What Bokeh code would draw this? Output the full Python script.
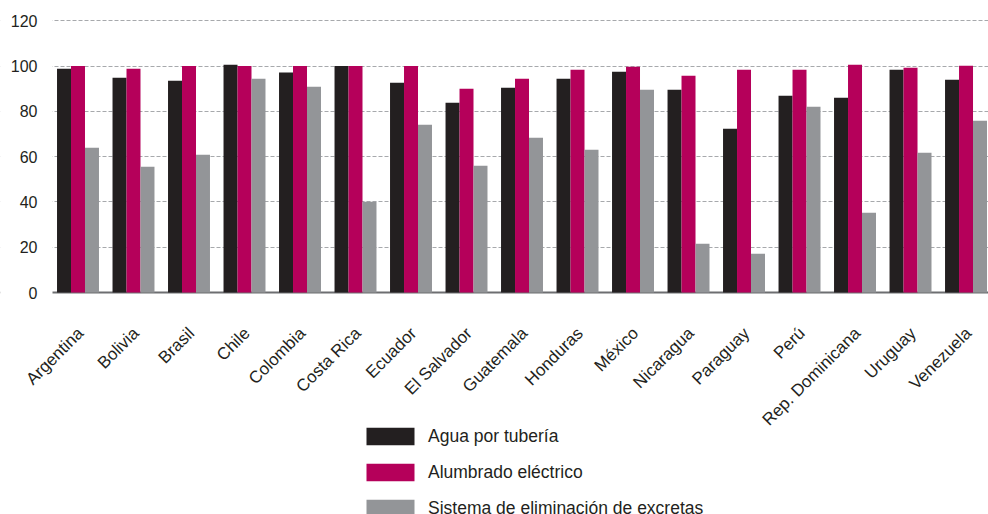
import math
from bokeh.plotting import figure
from bokeh.models import (ColumnDataSource, Range1d, Legend, LegendItem, FixedTicker, Span,
                          BoxAnnotation)
from bokeh.core.properties import value
from bokeh.transform import dodge
from bokeh.embed import file_html
from bokeh.resources import INLINE

countries = ["Argentina", "Bolivia", "Brasil", "Chile", "Colombia", "Costa Rica",
             "Ecuador", "El Salvador", "Guatemala", "Honduras", "México", "Nicaragua",
             "Paraguay", "Perú", "Rep. Dominicana", "Uruguay", "Venezuela"]
agua = [98.8, 94.8, 93.5, 100.6, 97.1, 100.0, 92.6, 83.8, 90.4, 94.4, 97.5, 89.5,
        72.3, 86.9, 86.0, 98.4, 94.0]
alumbrado = [100.0, 98.8, 100.0, 100.0, 100.0, 100.0, 100.0, 90.0, 94.4, 98.4, 99.7,
             95.7, 98.4, 98.4, 100.6, 99.3, 100.1]
excretas = [63.9, 55.5, 60.8, 94.4, 90.9, 40.1, 74.1, 56.0, 68.3, 63.0, 89.5, 21.5,
            17.1, 82.0, 35.2, 61.7, 75.8]
y_ticks = [0, 20, 40, 60, 80, 100, 120]
series_names = ["Agua por tubería", "Alumbrado eléctrico", "Sistema de eliminación de excretas"]
colors = ["#231f20", "#b5005a", "#939598"]

pos = list(range(len(countries)))
src = ColumnDataSource(dict(pos=pos, country=countries, agua=agua,
                            alumbrado=alumbrado, excretas=excretas))
ysrc = ColumnDataSource(dict(y=y_ticks, label=[str(t) for t in y_ticks]))

FONT = "Liberation Sans"
TXT = "#231f20"

X_START, X_END = -1.3964, 16.405
p = figure(width=988, height=514, output_backend="svg", toolbar_location=None,
           x_range=Range1d(X_START, X_END), y_range=Range1d(-98.03, 128.95))
p.min_border_left = 0
p.min_border_right = 0
p.min_border_top = 0
p.min_border_bottom = 0
p.outline_line_color = None
p.background_fill_color = "white"
p.border_fill_color = "white"
p.xaxis.visible = False
p.yaxis.visible = False

# grid (y only, at the tick values)
p.ygrid.ticker = FixedTicker(ticks=y_ticks)
p.xgrid.grid_line_color = None
p.ygrid.grid_line_color = "#a7a9ac"
p.ygrid.grid_line_dash = "4 2"
p.ygrid.grid_line_width = 1

# baseline
p.add_layout(Span(location=0, dimension="width", line_color="#6d6e71", line_width=2,
                  level="underlay"))
# white strip hiding the grid left of the plot area
p.add_layout(BoxAnnotation(left=-10, right=52, left_units="screen", right_units="screen",
                           fill_color="white", fill_alpha=1, line_color=None,
                           level="underlay"))

bw = 0.252
cols = ["agua", "alumbrado", "excretas"]
offsets = [-bw, 0.0, bw]
rends = []
for c, off, col in zip(cols, offsets, colors):
    r = p.vbar(x=dodge("pos", off, range=p.x_range), top=c, width=bw, source=src,
               fill_color=col, line_color=None)
    rends.append(r)

# category labels (rotated)
p.text(x="pos", y=0, text="country", source=src, angle=math.pi / 4,
       text_align="right", text_baseline="middle", x_offset=2.5, y_offset=38,
       text_font=value(FONT), text_font_size="17px", text_color=TXT)

# y tick labels
p.text(x=X_START, y="y", text="label", source=ysrc, x_offset=37,
       text_align="right", text_baseline="middle",
       text_font=value(FONT), text_font_size="16px", text_color=TXT)

legend = Legend(items=[LegendItem(label=n, renderers=[r]) for n, r in zip(series_names, rends)],
                location=(360, -5), orientation="vertical")
legend.glyph_width = 60
legend.glyph_height = 22
legend.label_standoff = 8
legend.spacing = 14
legend.padding = 0
legend.margin = 0
legend.border_line_alpha = 0
legend.background_fill_alpha = 0
legend.label_text_font = FONT
legend.label_text_font_size = "17.5px"
legend.label_text_color = TXT
legend.label_height = 18
p.add_layout(legend, "center")

open("out.html", "w").write(file_html(p, INLINE))
